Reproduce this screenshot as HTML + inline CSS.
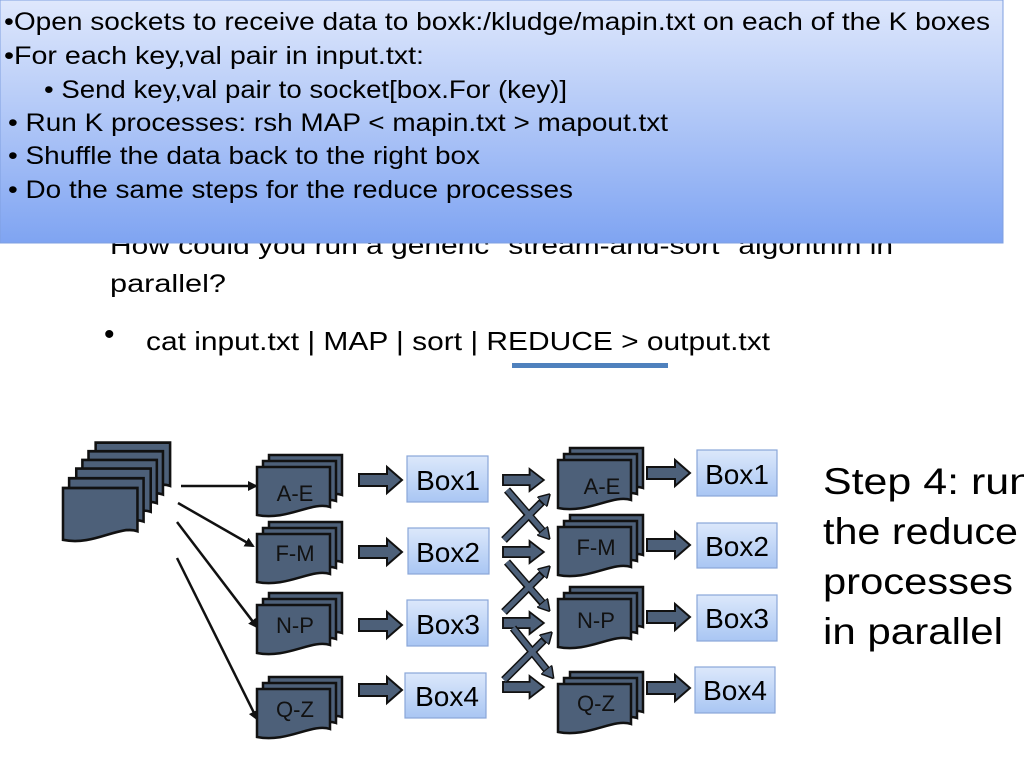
<!DOCTYPE html>
<html><head><meta charset="utf-8"><style>
html,body{margin:0;padding:0;background:#fff;}
svg{display:block;font-family:"Liberation Sans",Arial,sans-serif;}
</style></head><body>
<svg width="1024" height="768" viewBox="0 0 1024 768" xmlns="http://www.w3.org/2000/svg">
<defs>
<linearGradient id="hg" x1="0" y1="0" x2="0" y2="1">
<stop offset="0" stop-color="#dfe8fc"/><stop offset="1" stop-color="#7fa4f2"/></linearGradient>
<linearGradient id="bg" x1="0" y1="0" x2="0" y2="1">
<stop offset="0" stop-color="#dce8fb"/><stop offset="1" stop-color="#a9c6f3"/></linearGradient>
<path id="doc" d="M0,0 H73 V40 C55,34 30,54 0,48 Z" fill="#4d6079" stroke="#111" stroke-width="2.5"/>
<g id="stk"><use href="#doc" x="12" y="-12"/><use href="#doc" x="6" y="-6"/><use href="#doc"/></g>
<path id="barr" d="M0,-6 H28 V-13 L43,0 L28,13 V6 H0 Z" fill="#4d6079" stroke="#111" stroke-width="2"/>
<marker id="ah" markerWidth="10" markerHeight="10" refX="8" refY="5" orient="auto" markerUnits="userSpaceOnUse"><path d="M0,0 L10,5 L0,10 Z" fill="#111"/></marker>
<marker id="ah2" markerWidth="12" markerHeight="14" refX="6" refY="7" orient="auto" markerUnits="userSpaceOnUse"><path d="M0,0 L12,7 L0,14 Z" fill="#4d6079" stroke="#111" stroke-width="1.5"/></marker>
</defs>

<text x="110" y="254" font-size="25" fill="#000" textLength="783" lengthAdjust="spacingAndGlyphs">How could you run a generic "stream-and-sort" algorithm in</text>
<text x="110" y="292" font-size="25" fill="#000" textLength="116" lengthAdjust="spacingAndGlyphs">parallel?</text>

<rect x="0" y="0" width="1003" height="243" fill="url(#hg)" stroke="#7f9fe0" stroke-width="1"/>
<g font-size="25" fill="#000">
<text x="4" y="30" textLength="986" lengthAdjust="spacingAndGlyphs">•Open sockets to receive data to boxk:/kludge/mapin.txt on each of the K boxes</text>
<text x="4" y="64" textLength="420" lengthAdjust="spacingAndGlyphs">•For each key,val pair in input.txt:</text>
<text x="44" y="98" textLength="523" lengthAdjust="spacingAndGlyphs">• Send key,val pair to socket[box.For (key)]</text>
<text x="8" y="131" textLength="660" lengthAdjust="spacingAndGlyphs">• Run K processes: rsh MAP &lt; mapin.txt &gt; mapout.txt</text>
<text x="8" y="164" textLength="472" lengthAdjust="spacingAndGlyphs">• Shuffle the data back to the right box</text>
<text x="8" y="198" textLength="565" lengthAdjust="spacingAndGlyphs">• Do the same steps for the reduce processes</text>
</g>

<text x="104" y="344" font-size="30">•</text>
<text x="146" y="350" font-size="26" textLength="624" lengthAdjust="spacingAndGlyphs">cat input.txt | MAP | sort | REDUCE &gt; output.txt</text>
<rect x="512" y="363" width="156" height="5" fill="#4f81bd"/>

<!-- big stack -->
<g transform="translate(63,488) scale(1.02,1.08)">
<use href="#doc" x="32" y="-42"/><use href="#doc" x="25" y="-34"/><use href="#doc" x="19" y="-26"/><use href="#doc" x="13" y="-18"/><use href="#doc" x="6" y="-9"/><use href="#doc"/>
</g>

<g stroke="#111" stroke-width="2.5" marker-end="url(#ah)">
<line x1="181" y1="486" x2="256" y2="486"/>
<line x1="178" y1="503" x2="253" y2="546"/>
<line x1="177" y1="522" x2="257" y2="627"/>
<line x1="177" y1="558" x2="257" y2="719"/>
</g>

<use href="#stk" x="257" y="467"/>
<use href="#stk" x="257" y="534"/>
<use href="#stk" x="257" y="605"/>
<use href="#stk" x="257" y="689"/>
<g font-size="22" fill="#111" text-anchor="middle">
<text x="295" y="501">A-E</text><text x="295" y="561">F-M</text><text x="295" y="633">N-P</text><text x="295" y="717">Q-Z</text>
</g>

<use href="#barr" x="359" y="480"/><use href="#barr" x="359" y="552"/><use href="#barr" x="359" y="625"/><use href="#barr" x="359" y="690"/>

<g fill="url(#bg)" stroke="#8aa6d8" stroke-width="1.2">
<rect x="407" y="456" width="81" height="46"/><rect x="408" y="528" width="81" height="46"/>
<rect x="407" y="600" width="81" height="46"/><rect x="405" y="673" width="81" height="45"/>
<rect x="697" y="450" width="80" height="46"/><rect x="697" y="523" width="80" height="45"/>
<rect x="697" y="595" width="80" height="46"/><rect x="695" y="667" width="80" height="46"/>
</g>
<g font-size="28" fill="#000" text-anchor="middle">
<text x="448" y="490">Box1</text><text x="448" y="562">Box2</text><text x="448" y="634">Box3</text><text x="447" y="706">Box4</text>
<text x="737" y="484">Box1</text><text x="737" y="556">Box2</text><text x="737" y="628">Box3</text><text x="735" y="700">Box4</text>
</g>

<use href="#barr" transform="translate(503,480) scale(0.95,0.85)"/>
<use href="#barr" transform="translate(503,552) scale(0.95,0.85)"/>
<use href="#barr" transform="translate(503,623) scale(0.95,0.85)"/>
<use href="#barr" transform="translate(503,687) scale(0.95,0.85)"/>
<g marker-end="url(#ah2)">
<g stroke="#111" stroke-width="8">
<line x1="507" y1="490" x2="546" y2="535"/><line x1="504" y1="540" x2="546" y2="498"/>
<line x1="507" y1="562" x2="546" y2="607"/><line x1="504" y1="612" x2="546" y2="570"/>
<line x1="513" y1="628" x2="550" y2="674"/><line x1="504" y1="680" x2="548" y2="636"/>
</g>
</g>
<g stroke="#4d6079" stroke-width="5">
<line x1="507" y1="490" x2="542" y2="530"/><line x1="504" y1="540" x2="541" y2="503"/>
<line x1="507" y1="562" x2="542" y2="602"/><line x1="504" y1="612" x2="541" y2="575"/>
<line x1="513" y1="628" x2="546" y2="669"/><line x1="504" y1="680" x2="543" y2="641"/>
</g>

<use href="#stk" x="558" y="460"/>
<use href="#stk" x="558" y="527"/>
<use href="#stk" x="558" y="599"/>
<use href="#stk" x="558" y="684"/>
<g font-size="22" fill="#111" text-anchor="middle">
<text x="602" y="494">A-E</text><text x="596" y="555">F-M</text><text x="596" y="628">N-P</text><text x="596" y="711">Q-Z</text>
</g>
<use href="#barr" x="647" y="473"/><use href="#barr" x="647" y="545"/><use href="#barr" x="647" y="617"/><use href="#barr" x="647" y="688"/>

<g font-size="37" fill="#000">
<text x="823" y="494" textLength="210" lengthAdjust="spacingAndGlyphs">Step 4: run</text>
<text x="823" y="544" textLength="195" lengthAdjust="spacingAndGlyphs">the reduce</text>
<text x="823" y="594" textLength="190" lengthAdjust="spacingAndGlyphs">processes</text>
<text x="823" y="644" textLength="180" lengthAdjust="spacingAndGlyphs">in parallel</text>
</g>
</svg>
</body></html>
